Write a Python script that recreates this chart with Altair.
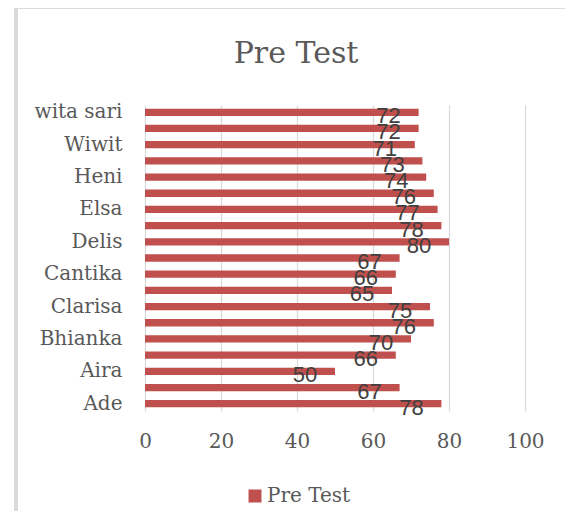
import altair as alt
import pandas as pd

# top-to-bottom order as drawn
names = ["wita sari", "h1", "Wiwit", "h2", "Heni", "h3", "Elsa", "h4", "Delis", "h5",
         "Cantika", "h6", "Clarisa", "h7", "Bhianka", "h8", "Aira", "h9", "Ade"]
shown = ["wita sari", "Wiwit", "Heni", "Elsa", "Delis", "Cantika", "Clarisa", "Bhianka", "Aira", "Ade"]
scores = [72, 72, 71, 73, 74, 76, 77, 78, 80, 67, 66, 65, 75, 76, 70, 66, 50, 67, 78]
series = "Pre Test"
x_ticks = [0, 20, 40, 60, 80, 100]

df = pd.DataFrame({"name": names, "score": scores, "series": [series] * len(names)})

W, H = 380, 306
serif = "DejaVu Serif"
gray = "#595959"

y_enc = alt.Y("name:N", sort=names, title=None,
              scale=alt.Scale(paddingInner=0.55, paddingOuter=0.225),
              axis=alt.Axis(values=shown, ticks=False, domain=False, labelPadding=23,
                            labelFont=serif, labelFontSize=20, labelColor=gray,
                            labelFontWeight="normal"))
x_enc = alt.X("score:Q", title=None,
              scale=alt.Scale(domain=[0, 100], nice=False),
              axis=alt.Axis(values=x_ticks, ticks=False, domain=False, grid=True,
                            gridColor="#D9D9D9", gridWidth=1.2, labelPadding=20,
                            labelFlush=False,
                            labelFont=serif, labelFontSize=20, labelColor=gray))

bars = alt.Chart(df).mark_bar(cornerRadius=0).encode(
    x=x_enc, y=y_enc,
    color=alt.Color("series:N", scale=alt.Scale(range=["#C0504D"]),
                    legend=alt.Legend(title=None, orient="none", legendX=100, legendY=381,
                                      symbolType="square", symbolSize=169,
                                      symbolStrokeWidth=0,
                                      labelFont=serif, labelFontSize=20, labelColor=gray,
                                      labelOffset=2)))

labels = alt.Chart(df).mark_text(align="center", baseline="middle", dx=-30, dy=4,
                                 font="Liberation Sans", fontSize=22, color="#404040").encode(
    x="score:Q", y=alt.Y("name:N", sort=names), text="score:Q")

frame_left = alt.Chart(df).mark_rule(color="#D9D9D9", strokeWidth=2.5, clip=False).encode(
    x=alt.value(-129), y=alt.value(-98), y2=alt.value(H + 200))
frame_top = alt.Chart(df).mark_rule(color="#D9D9D9", strokeWidth=2.5, clip=False).encode(
    x=alt.value(-129), x2=alt.value(W + 200), y=alt.value(-98))

chart = alt.layer(frame_left, frame_top, bars, labels).properties(
    width=W, height=H,
    title=alt.TitleParams(series, font=serif, fontSize=30, color=gray, fontWeight="normal",
                          anchor="middle", dx=-39, offset=-63),
    autosize=alt.AutoSizeParams(type="none"),
    padding={"left": 137, "top": 97, "right": 40, "bottom": 100},
).configure_view(stroke=None)

chart.save("out.html", embed_options={"renderer": "svg", "actions": False})
